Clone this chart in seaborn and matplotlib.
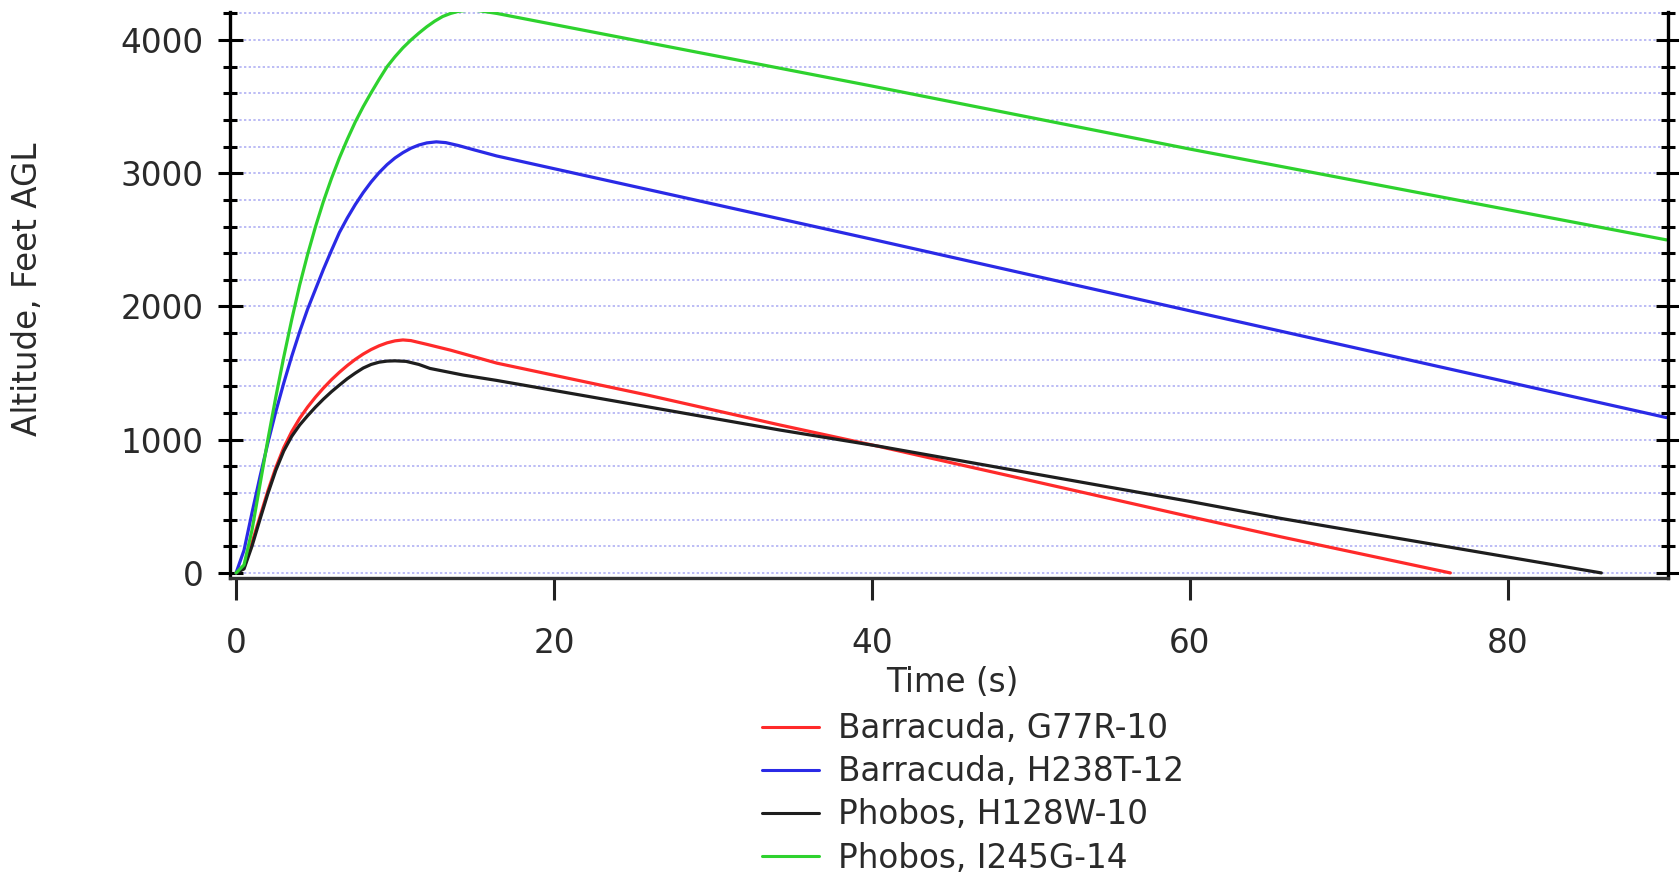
import matplotlib
matplotlib.use("Agg")
import matplotlib.pyplot as plt
import seaborn as sns
import pandas as pd
from matplotlib.ticker import MultipleLocator

# ---- data ----
series_names = ["Barracuda, G77R-10", "Barracuda, H238T-12",
                "Phobos, H128W-10", "Phobos, I245G-14"]
series_colors = ["#ff2a2a", "#2a2ae6", "#1e1e1e", "#2ed22e"]

g77r_t = [0.0, 0.5, 1.0, 1.5, 2.0, 2.5, 3.0, 3.5, 4.0, 4.5, 5.0, 5.5, 6.0,
          6.5, 7.0, 7.5, 8.0, 8.5, 9.0, 9.5, 10.0, 10.5, 11.0, 12.0, 13.5,
          16.4, 25.85, 34.2, 40.5, 50.0, 60.0, 65.7, 76.4]
g77r_alt = [0, 40, 225, 420, 615, 790, 940, 1060, 1160, 1245, 1320, 1388,
            1450, 1506, 1557, 1603, 1643, 1677, 1705, 1727, 1742, 1749, 1744,
            1716, 1672, 1575, 1336, 1111, 948, 693, 423, 272, 0]

h238t_t = [0.0, 0.5, 1.0, 1.5, 2.0, 2.5, 3.0, 3.5, 4.0, 4.5, 5.0, 5.5, 6.0,
           6.5, 7.0, 7.5, 8.0, 8.5, 9.0, 9.5, 10.0, 10.5, 11.0, 11.5, 12.0,
           12.6, 13.2, 14.0, 15.0, 16.4, 40.0, 60.0, 90.0]
h238t_alt = [0, 170, 450, 720, 975, 1210, 1425, 1625, 1810, 1980, 2130, 2280,
             2420, 2555, 2665, 2765, 2855, 2935, 3005, 3065, 3115, 3155, 3188,
             3212, 3228, 3236, 3230, 3208, 3175, 3130, 2505, 1968, 1166]

h128w_t = [0.0, 0.5, 1.0, 1.5, 2.0, 2.5, 3.0, 3.5, 4.0, 4.5, 5.0, 5.5, 6.0,
           6.5, 7.0, 7.5, 8.0, 8.5, 9.0, 9.5, 10.0, 10.7, 11.5, 12.2, 14.3,
           16.4, 25.85, 34.2, 40.5, 60.0, 65.7, 85.9]
h128w_alt = [0, 30, 200, 400, 595, 770, 915, 1025, 1110, 1180, 1245, 1305,
             1360, 1410, 1458, 1500, 1538, 1565, 1582, 1590, 1592, 1588, 1565,
             1535, 1485, 1445, 1248, 1073, 950, 537, 410, 0]

i245g_t = [0.0, 0.5, 1.0, 1.5, 2.0, 2.5, 3.0, 3.5, 4.0, 4.5, 5.0, 5.5, 6.0,
           6.5, 7.0, 7.5, 8.0, 8.5, 9.0, 9.5, 10.0, 10.5, 11.0, 11.5, 12.0,
           12.5, 13.0, 13.5, 14.0, 14.6, 15.2, 16.4, 40.0, 60.0, 90.0]
i245g_alt = [0, 60, 320, 660, 1000, 1320, 1620, 1900, 2160, 2390, 2600, 2790,
             2960, 3115, 3255, 3385, 3500, 3605, 3705, 3800, 3875, 3942, 4000,
             4052, 4100, 4142, 4177, 4200, 4216, 4224, 4222, 4200, 3655, 3182,
             2500]

x_ticks = [0, 20, 40, 60, 80]
y_ticks = [0, 1000, 2000, 3000, 4000]
x_label = "Time (s)"
y_label = "Altitude, Feet AGL"

# ---- table for seaborn ----
frames = []
for name, t, a in zip(series_names,
                      [g77r_t, h238t_t, h128w_t, i245g_t],
                      [g77r_alt, h238t_alt, h128w_alt, i245g_alt]):
    frames.append(pd.DataFrame({"t": t, "alt": a, "series": name}))
df = pd.concat(frames, ignore_index=True)

sns.set_style("white")
plt.rcParams["font.family"] = ["DejaVu Sans"]

FS = 23.5
fig = plt.figure(figsize=(16.79, 8.76), dpi=100)
ax = fig.add_axes([0.137, 0.3402, 0.8565, 0.6460])

sns.lineplot(data=df, x="t", y="alt", hue="series", hue_order=series_names,
             palette=dict(zip(series_names, series_colors)),
             estimator=None, sort=False, linewidth=2.3, ax=ax, legend=True)

ax.set_xlim(-0.38, 90.1)
ax.set_ylim(-38, 4210)
ax.set_xticks(x_ticks)
ax.set_yticks(y_ticks)
ax.yaxis.set_minor_locator(MultipleLocator(200))
ax.set_axisbelow(True)

ax.yaxis.grid(True, which="both", linestyle=(0, (1.2, 1.2)),
              color="#bcbcf5", linewidth=1.4)
ax.xaxis.grid(False)

for s in ["left", "right"]:
    ax.spines[s].set_color("black")
    ax.spines[s].set_linewidth(2.4)
ax.spines["bottom"].set_color("#333333")
ax.spines["bottom"].set_linewidth(2.4)
ax.spines["top"].set_visible(False)

ax.tick_params(axis="y", which="major", direction="inout", length=18,
               width=2.2, left=True, right=True, labelsize=FS, pad=10,
               color="black", labelcolor="#2a2a2a")
ax.tick_params(axis="y", which="minor", direction="inout", length=10,
               width=2.2, left=True, right=True, color="black")
ax.tick_params(axis="x", which="major", direction="out", length=16,
               width=2.2, bottom=True, labelsize=FS, pad=19,
               color="#222222", labelcolor="#2a2a2a")

ax.set_xlabel(x_label, fontsize=FS, color="#2a2a2a", va="center")
ax.set_ylabel(y_label, fontsize=FS, color="#2a2a2a", va="center")
ax.xaxis.set_label_coords(0.502, -0.1855)
ax.yaxis.set_label_coords(-0.1405, 0.51)

handles, labels = ax.get_legend_handles_labels()
ax.get_legend().remove()
leg = fig.legend(handles, labels, loc="upper left",
                 bbox_to_anchor=(0.4538, 0.187), frameon=False,
                 fontsize=FS, handlelength=1.75, handletextpad=0.58,
                 labelspacing=0.31, borderpad=0, borderaxespad=0)
for line in leg.get_lines():
    line.set_linewidth(2.2)
for txt in leg.get_texts():
    txt.set_color("#2a2a2a")

fig.savefig("out.png", dpi=100)
